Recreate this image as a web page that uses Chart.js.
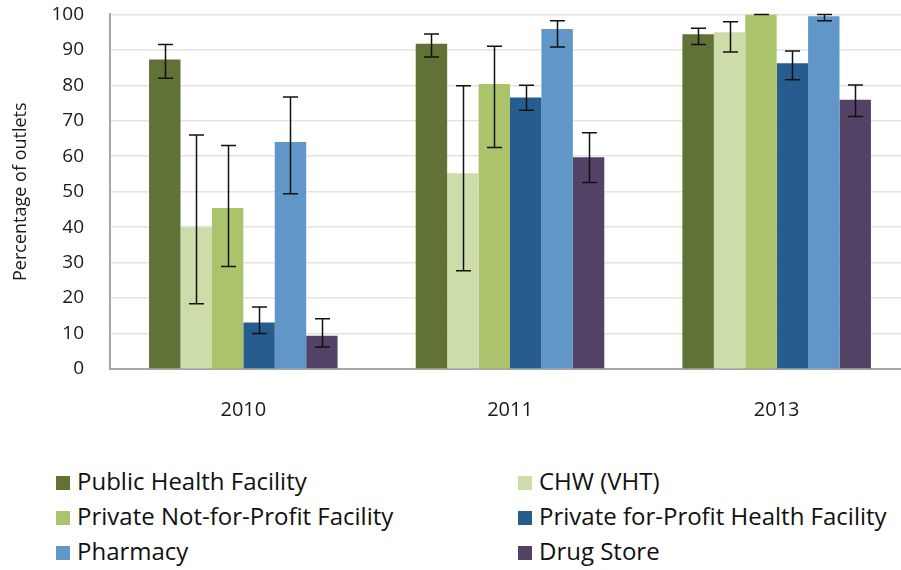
<!DOCTYPE html>
<html>
<head>
<meta charset="utf-8">
<script src="https://cdn.jsdelivr.net/npm/chart.js@4.4.0/dist/chart.umd.min.js"></script>
<style>
    html, body { margin: 0; padding: 0; background: #fff; overflow: hidden; }
    #wrap { position: absolute; left: 0; top: -23px; width: 910px; height: 463px; }
    #legend { position: absolute; left: 56px; top: 463px; width: 846px; font-family: 'Open Sans', sans-serif; font-size: 24px; color: #111; }
    .item { position: absolute; height: 36px; line-height: 36px; white-space: nowrap; }
    .box { display: inline-block; width: 14px; height: 14px; margin-right: 7px; vertical-align: 0px; }
</style>
</head>
<body>
<div id="wrap"><canvas id="grafico"></canvas></div>
<div id="legend"></div>
<script>
// Dados
const anos = ['2010', '2011', '2013'];
const seriesNomes = ['Public Health Facility', 'CHW (VHT)', 'Private Not-for-Profit Facility',
    'Private for-Profit Health Facility', 'Pharmacy', 'Drug Store'];
const cores = ['#617236', '#CDDDAA', '#ABC46C', '#275C8E', '#6196C9', '#524366'];

const publicHealth = [87.3, 91.7, 94.4];
const chw = [40.0, 55.2, 95.0];
const privateNonProfit = [45.4, 80.4, 100];
const privateForProfit = [13.1, 76.6, 86.2];
const pharmacy = [64.0, 95.9, 99.5];
const drugStore = [9.4, 59.7, 75.9];

// intervalos de erro (superior / inferior)
const publicHealthHi = [91.5, 94.5, 96.1];
const publicHealthLo = [82.0, 88.0, 91.5];
const chwHi = [66.0, 79.9, 97.9];
const chwLo = [18.4, 27.7, 89.4];
const privateNonProfitHi = [63.0, 91.0, 100];
const privateNonProfitLo = [28.9, 62.5, 100];
const privateForProfitHi = [17.5, 80.0, 89.7];
const privateForProfitLo = [10.0, 73.0, 81.6];
const pharmacyHi = [76.7, 98.2, 100];
const pharmacyLo = [49.4, 90.8, 98.2];
const drugStoreHi = [14.2, 66.6, 80.1];
const drugStoreLo = [6.2, 52.6, 71.2];

const yTicks = [0, 10, 20, 30, 40, 50, 60, 70, 80, 90, 100];

const valores = [publicHealth, chw, privateNonProfit, privateForProfit, pharmacy, drugStore];
const erroHi = [publicHealthHi, chwHi, privateNonProfitHi, privateForProfitHi, pharmacyHi, drugStoreHi];
const erroLo = [publicHealthLo, chwLo, privateNonProfitLo, privateForProfitLo, pharmacyLo, drugStoreLo];

// Plugin para as barras de erro
const barrasErro = {
    id: 'barrasErro',
    afterDatasetsDraw(chart) {
        const ctx = chart.ctx;
        const y = chart.scales.y;
        ctx.save();
        ctx.strokeStyle = '#111';
        ctx.lineWidth = 1.5;
        chart.data.datasets.forEach((ds, i) => {
            const meta = chart.getDatasetMeta(i);
            meta.data.forEach((bar, j) => {
                const yHi = y.getPixelForValue(ds.errHi[j]);
                const yLo = y.getPixelForValue(ds.errLo[j]);
                const x = Math.round(bar.x) + 0.5;
                ctx.beginPath();
                ctx.moveTo(x, yHi);
                ctx.lineTo(x, yLo);
                ctx.moveTo(x - 7.5, yHi);
                ctx.lineTo(x + 7.5, yHi);
                ctx.moveTo(x - 7.5, yLo);
                ctx.lineTo(x + 7.5, yLo);
                ctx.stroke();
            });
        });
        ctx.restore();
    }
};

const chart = new Chart(document.getElementById('grafico'), {
    type: 'bar',
    data: {
        labels: anos,
        datasets: seriesNomes.map((nome, i) => ({
            label: nome,
            data: valores[i],
            errHi: erroHi[i],
            errLo: erroLo[i],
            backgroundColor: cores[i],
            borderWidth: 0,
            categoryPercentage: 0.707,
            barPercentage: 1
        }))
    },
    options: {
        responsive: true,
        maintainAspectRatio: false,
        animation: false,
        layout: { padding: { top: -4, left: 0, right: 0, bottom: 0 } },
        plugins: {
            legend: { display: false },
            tooltip: { enabled: false }
        },
        scales: {
            x: {
                grid: { display: false, drawTicks: false },
                border: { display: true, color: '#A6A6A6', width: 2 },
                ticks: { color: '#1a1a1a', padding: 29, font: { family: 'Open Sans', size: 20 } },
                afterFit(scale) { scale.height = 71; }
            },
            y: {
                min: 0,
                max: 100,
                afterBuildTicks(scale) { scale.ticks = yTicks.map(v => ({ value: v })); },
                grid: { color: '#E3E3E3', lineWidth: 1.5, drawTicks: false },
                border: { display: true, color: '#A6A6A6', width: 2 },
                ticks: { color: '#1a1a1a', padding: 26, font: { family: 'Open Sans', size: 19 } },
                title: {
                    display: true,
                    text: 'Percentage of outlets',
                    color: '#1a1a1a',
                    padding: { top: 10, bottom: 0 },
                    font: { family: 'Open Sans', size: 18 }
                },
                afterFit(scale) { scale.width = 110; }
            }
        }
    },
    plugins: [barrasErro]
});

// Legenda em duas colunas
const legenda = document.getElementById('legend');
chart.data.datasets.forEach((ds, i) => {
    const item = document.createElement('div');
    item.className = 'item';
    item.style.left = (i % 2 === 0 ? 0 : 462) + 'px';
    item.style.top = (Math.floor(i / 2) * 35) + 'px';
    item.innerHTML = '<span class="box" style="background:' + ds.backgroundColor + '"></span>' + ds.label;
    legenda.appendChild(item);
});
</script>
</body>
</html>
